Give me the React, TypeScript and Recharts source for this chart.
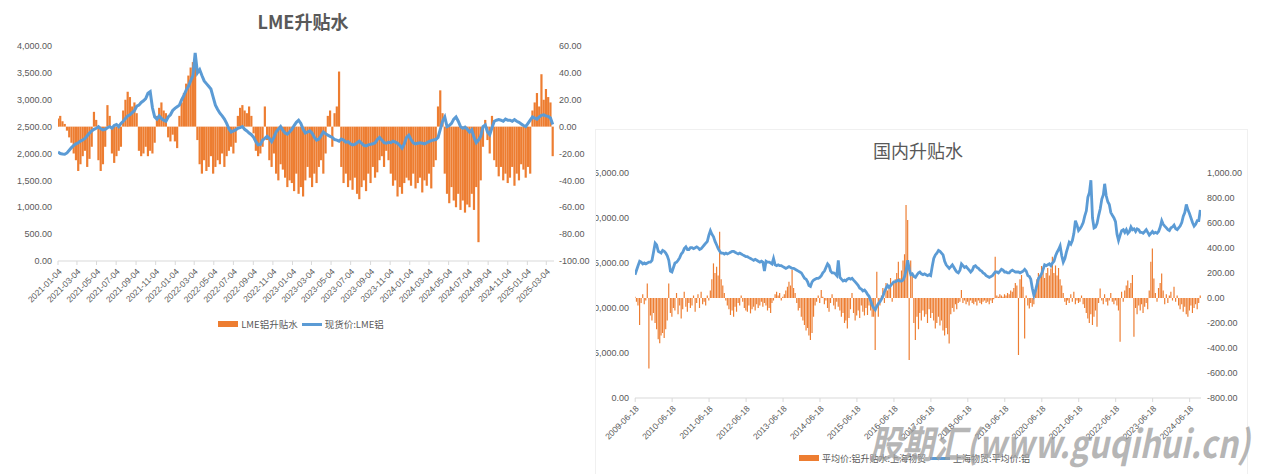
import React from 'react';
import { ComposedChart, Bar, Line, XAxis, YAxis, Legend } from 'recharts';

const DAY = 86400000;
const FONT = "'Liberation Sans', 'Noto Sans CJK SC', sans-serif";
const CJK = "'Noto Sans CJK SC', 'Noto Sans', sans-serif";
const ORANGE = '#ED7D31';
const BLUE = '#5B9BD5';
const GREY = '#595959';

// ---------- LME chart (weekly, starting 2021-01-04) ----------
const lmeStart = '2021-01-04';
const lmeEnd = '2025-03-28';
const lmeSpread2021 = [6, 8, 4, 2, -3, -8, -12, -20, -25, -33, -28, -22, -18, -30, -24, -15, 11, 5, -25, -33, -28, -15, 16, 8, -20, -27, -22, -18, -15, 12, 20, 26, 22, 15, 18, 10, -18, -22, -20, -15, -22, -18, -20, -12, 8, 14, 18, 12, 10, -8, -11, -6];
const lmeSpread2022 = [-11, -16, 8, 18, 25, 32, 38, 44, 48, 51, -10, -28, -35, -25, -33, -30, -22, -35, -30, -25, -28, -20, -30, -22, -18, -15, -20, -12, 8, 14, 16, 12, 10, 15, 8, -5, -18, -22, -20, -15, 15, -10, -25, -30, -20, -35, -40, -28, -32, -38, -45, -40];
const lmeSpread2023 = [-42, -48, -35, -50, -45, -52, -40, -30, -38, -45, -35, -42, -30, -25, -35, -20, 8, 12, -15, 10, 15, 41, -30, -42, -35, -45, -40, -47, -38, -50, -54, -45, -40, -48, -35, -42, -30, -38, -34, -25, -22, -30, -18, -25, -35, -44, -40, -52, -45, -50, -42, -38];
const lmeSpread2024 = [-40, -44, -35, -46, -42, -38, -49, -40, -44, -35, -46, -30, -25, 15, 27, 10, -35, -50, -57, -45, -55, -60, -50, -62, -55, -64, -58, -60, -50, -62, -45, -86, -40, -15, 5, -10, -20, 8, -25, -30, -37, -30, -40, -35, -42, -38, -30, -44, -35, -40, -28, -32];
const lmeSpread2025 = [-38, -30, -35, 12, 18, 25, 15, 39, 20, 28, 22, 18, -22];

const lmePrice2021 = [2030, 2000, 1990, 1985, 2010, 2060, 2110, 2150, 2180, 2200, 2230, 2250, 2280, 2330, 2380, 2420, 2450, 2470, 2500, 2460, 2440, 2450, 2480, 2500, 2470, 2520, 2540, 2500, 2560, 2600, 2650, 2700, 2720, 2760, 2800, 2880, 2900, 2950, 2980, 3020, 3120, 3150, 2850, 2680, 2640, 2700, 2650, 2620, 2600, 2680, 2720, 2800];
const lmePrice2022 = [2840, 2870, 2900, 3000, 3080, 3180, 3250, 3350, 3450, 3870, 3500, 3560, 3450, 3350, 3300, 3250, 3200, 3050, 2900, 2820, 2750, 2700, 2640, 2560, 2460, 2400, 2420, 2440, 2470, 2480, 2500, 2450, 2420, 2380, 2350, 2300, 2220, 2160, 2170, 2250, 2280, 2320, 2280, 2220, 2300, 2400, 2450, 2500, 2430, 2380, 2360, 2400];
const lmePrice2023 = [2450, 2520, 2580, 2620, 2560, 2450, 2380, 2400, 2420, 2380, 2300, 2250, 2270, 2330, 2400, 2370, 2340, 2320, 2300, 2260, 2250, 2230, 2270, 2250, 2210, 2220, 2180, 2160, 2170, 2200, 2230, 2190, 2150, 2140, 2160, 2170, 2180, 2200, 2260, 2300, 2250, 2200, 2190, 2210, 2200, 2230, 2210, 2190, 2150, 2100, 2180, 2300];
const lmePrice2024 = [2340, 2260, 2200, 2180, 2190, 2200, 2190, 2180, 2200, 2220, 2240, 2250, 2260, 2300, 2450, 2600, 2680, 2500, 2520, 2560, 2640, 2680, 2600, 2500, 2470, 2490, 2450, 2400, 2440, 2300, 2200, 2250, 2320, 2500, 2530, 2400, 2350, 2480, 2600, 2620, 2630, 2620, 2600, 2640, 2620, 2620, 2600, 2630, 2600, 2580, 2550, 2520];
const lmePrice2025 = [2500, 2560, 2620, 2680, 2660, 2640, 2680, 2710, 2720, 2700, 2690, 2660, 2540];

const lmeTickLabels = [
  '2021-01-04', '2021-03-04', '2021-05-04', '2021-07-04', '2021-09-04', '2021-11-04',
  '2022-01-04', '2022-03-04', '2022-05-04', '2022-07-04', '2022-09-04', '2022-11-04',
  '2023-01-04', '2023-03-04', '2023-05-04', '2023-07-04', '2023-09-04', '2023-11-04',
  '2024-01-04', '2024-03-04', '2024-05-04', '2024-07-04', '2024-09-04', '2024-11-04',
  '2025-01-04', '2025-03-04',
];
const lmeLeftTicks = [0, 500, 1000, 1500, 2000, 2500, 3000, 3500, 4000];
const lmeRightTicks = [-100, -80, -60, -40, -20, 0, 20, 40, 60];

// ---------- Shanghai chart (1st and 16th of each month) ----------
const shStart = '2009-06-16';
const shEnd = '2024-10-08';
const shPrice2009 = [13700, 14200, 14700, 15200, 15100, 14900, 15000, 14900, 15000, 15100, 15100, 15300, 16200];
const shPrice2010 = [17200, 17000, 16300, 16200, 16100, 16400, 16300, 16100, 15800, 15300, 14100, 14000, 14500, 15000, 15100, 15300, 15600, 16000, 16200, 16600, 16800, 16500, 16500, 16700];
const shPrice2011 = [16700, 16600, 16700, 16800, 16700, 16500, 16600, 16800, 17000, 17200, 17400, 18100, 18600, 18200, 17900, 17400, 17000, 16600, 16300, 16100, 16100, 16000, 16100, 16000];
const shPrice2012 = [16100, 16200, 16300, 16300, 16200, 16100, 16000, 16100, 16000, 15900, 15800, 15700, 15700, 15600, 15500, 15400, 15300, 15400, 15300, 15200, 15100, 15200, 15100, 14100];
const shPrice2013 = [15200, 15100, 15100, 15000, 14900, 15500, 14800, 14700, 14800, 14700, 14700, 14600, 14500, 14400, 14500, 14600, 14500, 14400, 14400, 14300, 14200, 14100, 14000, 13900];
const shPrice2014 = [13600, 13300, 13200, 12900, 12500, 12400, 12900, 13100, 13200, 13300, 13300, 13400, 13600, 13900, 14100, 14500, 14900, 14700, 14100, 13900, 13900, 13800, 13600, 15300];
const shPrice2015 = [13400, 13200, 13000, 13100, 13000, 13200, 13300, 13200, 13300, 13100, 12900, 12700, 12500, 12200, 12100, 11900, 12000, 11800, 11500, 11300, 10800, 10300, 10000, 9800];
const shPrice2016 = [10200, 10500, 10700, 11000, 11300, 11800, 12200, 12500, 12300, 12500, 12700, 12900, 12900, 13000, 13100, 13000, 13000, 13100, 13500, 14200, 15300, 14300, 13700, 13800];
const shPrice2017 = [13500, 13400, 13700, 13900, 14000, 13800, 13700, 13800, 13700, 13600, 13700, 13600, 14600, 15500, 15900, 16100, 16400, 16300, 16100, 15900, 15200, 14800, 14600, 14400];
const shPrice2018 = [14600, 14800, 14500, 14200, 14000, 13900, 14200, 14900, 14700, 14500, 14600, 14400, 14200, 14000, 14200, 14600, 14700, 14500, 14400, 14200, 14100, 13900, 13800, 13600];
const shPrice2019 = [13500, 13400, 13500, 13600, 13800, 14000, 14000, 13900, 14100, 14300, 14200, 14000, 14000, 13900, 13900, 14100, 14200, 14100, 14000, 14000, 14000, 13900, 14000, 14100];
const shPrice2020 = [14300, 14100, 13600, 13500, 13200, 12200, 11400, 11900, 12600, 13300, 13500, 13800, 14300, 14800, 14700, 14800, 14900, 14700, 15000, 15200, 15800, 16200, 16500, 16900];
const shPrice2021 = [15800, 15100, 15500, 16200, 16700, 17300, 17100, 17500, 18300, 19700, 19200, 18600, 18800, 19100, 19500, 20200, 20800, 22300, 22800, 24200, 20000, 18900, 19000, 19400];
const shPrice2022 = [20300, 21000, 22100, 22600, 23800, 22500, 21800, 21500, 20600, 20300, 20000, 19600, 18200, 17500, 18100, 18600, 18700, 18400, 18700, 18300, 18500, 19000, 18700, 18800];
const shPrice2023 = [18500, 18800, 18700, 18400, 18400, 18300, 18500, 18700, 18400, 18100, 18300, 18500, 18300, 18400, 18300, 18500, 19000, 19700, 19300, 19100, 18900, 18700, 18600, 18900];
const shPrice2024 = [19000, 19200, 18800, 18700, 18900, 19100, 19500, 20200, 20600, 21500, 20900, 20500, 20000, 19500, 19100, 19300, 19700, 19700, 20900];

const shSpread2009 = [10, -30, -60, -216, -40, 30, -50, -20, 117, -563, -140, -180, -120];
const shSpread2010 = [-200, -250, -330, -362, -300, -280, -320, -250, -180, 117, -120, -150, -80, -100, 40, -130, -60, -163, -90, 50, -70, -110, -40, -80];
const shSpread2011 = [-60, 20, -110, -40, 30, -80, 50, -50, -30, -60, 20, -20, 60, 150, 277, 200, 250, 180, 530, 150, 100, 40, -20, -60];
const shSpread2012 = [-90, -136, -100, -150, -70, -110, -40, -60, 20, -30, -80, -100, -110, -60, -123, -90, -70, -100, -50, -80, -60, -30, -70, -40];
const shSpread2013 = [-60, -100, -80, -120, -40, -20, 30, 50, 20, 40, -20, 10, 30, 60, 90, 130, 100, 224, 80, 40, -40, -100, -80, -150];
const shSpread2014 = [-180, -216, -260, -240, -300, -336, -280, -150, -60, -30, 20, -40, 64, 10, -50, -20, -80, -110, -40, 30, -60, -90, -30, -70];
const shSpread2015 = [-100, -150, -120, -200, -180, -243, -160, -90, 40, -120, -180, -140, -100, -160, -60, -110, -140, -80, -136, -60, -100, -150, -150, -416];
const shSpread2016 = [210, -150, -60, 20, 80, -40, 120, 60, 100, 160, -30, 120, 150, 200, 290, 160, 220, 300, 350, 744, 624, -496, 300, 200];
const shSpread2017 = [-200, -336, -150, -250, -120, -180, -100, -150, -130, -200, -90, -160, -120, -180, -243, -200, -150, -220, -180, -260, -300, -240, -290, -363];
const shSpread2018 = [-130, -80, -110, -50, -90, -40, -30, 64, -40, -20, -50, -30, -60, -20, -40, -50, -30, -60, -20, -40, -50, -30, -20, -40];
const shSpread2019 = [-30, -50, -20, -40, -10, 331, 20, 10, 30, 20, 10, 30, 20, 40, 30, 60, 50, 80, 120, 100, -456, 150, 184, 90];
const shSpread2020 = [-323, 20, -60, -83, -40, -70, -50, 60, 150, 200, 180, 256, 220, 160, 200, 240, 180, 237, 331, 200, 260, 180, 240, 150];
const shSpread2021 = [100, 40, -30, -56, -20, -40, 30, -30, 50, -50, -20, -40, -30, 20, -50, -80, -120, -163, -200, -130, -216, -150, -100, -230];
const shSpread2022 = [-40, 77, -20, -50, 30, -30, -60, -20, 40, -30, -50, -20, -60, -100, -349, 50, -30, 60, 100, 140, 80, 120, 184, -309];
const shSpread2023 = [-80, -130, -60, -100, -50, -120, -70, -40, -90, 60, 290, 397, 157, 40, -30, 80, 120, 197, 60, -50, 30, -40, 20, 50];
const shSpread2024 = [-20, 90, -30, 20, -60, -90, -50, -110, -70, -130, -149, -100, -60, -120, -80, -50, -90, -40, 20];

const shTickLabels = [
  '2009-06-18', '2010-06-18', '2011-06-18', '2012-06-18', '2013-06-18', '2014-06-18',
  '2015-06-18', '2016-06-18', '2017-06-18', '2018-06-18', '2019-06-18', '2020-06-18',
  '2021-06-18', '2022-06-18', '2023-06-18', '2024-06-18',
];
const shLeftTicks = [0, 5000, 10000, 15000, 20000, 25000];
const shRightTicks = [-800, -600, -400, -200, 0, 200, 400, 600, 800, 1000];

// ---------- build tables ----------
const toTime = (s: string) => Date.parse(s);
const fmtDate = (t: number) => new Date(t).toISOString().slice(0, 10);
const fmt2 = (v: number) =>
  v.toLocaleString('en-US', { minimumFractionDigits: 2, maximumFractionDigits: 2 });

const lmeSpread = [...lmeSpread2021, ...lmeSpread2022, ...lmeSpread2023, ...lmeSpread2024, ...lmeSpread2025];
const lmePrice = [...lmePrice2021, ...lmePrice2022, ...lmePrice2023, ...lmePrice2024, ...lmePrice2025];
const lmeData = lmeSpread.map((v, i) => ({
  t: toTime(lmeStart) + i * 7 * DAY,
  spread: v,
  price: lmePrice[i],
}));

// year, first half-month slot (0 = Jan 1, 1 = Jan 16 ...), prices, spreads
const shYears: [number, number, number[], number[]][] = [
  [2009, 11, shPrice2009, shSpread2009],
  [2010, 0, shPrice2010, shSpread2010],
  [2011, 0, shPrice2011, shSpread2011],
  [2012, 0, shPrice2012, shSpread2012],
  [2013, 0, shPrice2013, shSpread2013],
  [2014, 0, shPrice2014, shSpread2014],
  [2015, 0, shPrice2015, shSpread2015],
  [2016, 0, shPrice2016, shSpread2016],
  [2017, 0, shPrice2017, shSpread2017],
  [2018, 0, shPrice2018, shSpread2018],
  [2019, 0, shPrice2019, shSpread2019],
  [2020, 0, shPrice2020, shSpread2020],
  [2021, 0, shPrice2021, shSpread2021],
  [2022, 0, shPrice2022, shSpread2022],
  [2023, 0, shPrice2023, shSpread2023],
  [2024, 0, shPrice2024, shSpread2024],
];
const shData = shYears.flatMap(([year, slot0, prices, spreads]) =>
  prices.map((p, i) => {
    const s = slot0 + i;
    return { t: Date.UTC(year, Math.floor(s / 2), s % 2 ? 16 : 1), price: p, spread: spreads[i] };
  })
);

// legend: bar item first, then line
const LegendBox = (props: any) => {
  const items = [...(props.payload || [])].sort((a: any, b: any) =>
    (a.type === 'rect' ? 0 : 1) - (b.type === 'rect' ? 0 : 1)
  );
  return (
    <div
      style={{
        height: 20,
        display: 'flex',
        justifyContent: 'center',
        alignItems: 'center',
        fontFamily: CJK,
        fontSize: props.fs || 9.5,
        color: GREY,
        paddingLeft: props.pl || 0,
      }}
    >
      {items.map((item: any) => (
        <div key={item.value} style={{ display: 'flex', alignItems: 'center', marginRight: 4 }}>
          <span
            style={{
              display: 'inline-block',
              width: 20,
              height: item.type === 'rect' ? 6 : 3,
              background: item.color,
              marginRight: 3,
            }}
          />
          <span>{item.value}</span>
        </div>
      ))}
    </div>
  );
};

const xTick = { angle: -45, textAnchor: 'end', fontSize: 8.5, fill: GREY, fontFamily: FONT } as any;
const yTick = { fontSize: 9, fill: GREY, fontFamily: FONT };

export default function App() {
  return (
    <div
      style={{
        position: 'absolute',
        left: 0,
        top: 0,
        width: 1270,
        height: 474,
        background: '#fff',
        overflow: 'hidden',
      }}
    >
      {/* LME chart */}
      <div style={{ position: 'absolute', left: 0, top: 0, width: 596, height: 350 }}>
        <div
          style={{
            position: 'absolute',
            left: 0,
            width: 606,
            top: 11,
            lineHeight: '20px',
            textAlign: 'center',
            fontFamily: CJK,
            fontSize: 18,
            fontWeight: 700,
            color: GREY,
          }}
        >
          LME升贴水
        </div>
        <ComposedChart width={596} height={350} data={lmeData} margin={{ top: 46, right: 0, bottom: 16, left: 0 }}>
          <XAxis
            dataKey="t"
            type="number"
            scale="linear"
            domain={[toTime(lmeStart), toTime(lmeEnd)]}
            ticks={lmeTickLabels.map(toTime)}
            tickFormatter={fmtDate}
            interval={0}
            height={53}
            tick={xTick}
            tickSize={4}
            tickMargin={3}
            stroke="#d9d9d9"
            allowDataOverflow
          />
          <YAxis
            yAxisId="left"
            width={58}
            domain={[0, 4000]}
            ticks={lmeLeftTicks}
            interval={0}
            tickFormatter={fmt2}
            axisLine={false}
            tickLine={false}
            tickSize={4}
            tickMargin={2}
            tick={yTick}
          />
          <YAxis
            yAxisId="right"
            orientation="right"
            width={42}
            domain={[-100, 60]}
            ticks={lmeRightTicks}
            interval={0}
            tickFormatter={fmt2}
            axisLine={false}
            tickLine={false}
            tickSize={3}
            tickMargin={2}
            tick={yTick}
          />
          <Legend verticalAlign="bottom" content={(p: any) => <LegendBox {...p} pl={10} />} />
          <Bar yAxisId="right" dataKey="spread" name="LME铝升贴水" fill={ORANGE} barSize={2.2} isAnimationActive={false} />
          <Line
            yAxisId="left"
            dataKey="price"
            name="现货价:LME铝"
            stroke={BLUE}
            strokeWidth={3}
            dot={false}
            type="linear"
            isAnimationActive={false}
          />
        </ComposedChart>
      </div>

      {/* Domestic chart */}
      <div
        style={{
          position: 'absolute',
          left: 596,
          top: 130,
          width: 651,
          height: 344,
          overflow: 'hidden',
          outline: '1px solid #f0f0f0',
        }}
      >
        <div
          style={{
            position: 'absolute',
            left: 0,
            width: 644,
            top: 10,
            lineHeight: '20px',
            textAlign: 'center',
            fontFamily: CJK,
            fontSize: 18,
            color: GREY,
          }}
        >
          国内升贴水
        </div>
        <div style={{ position: 'absolute', left: -10, top: 0 }}>
          <ComposedChart width={661} height={344} data={shData} margin={{ top: 43, right: 0, bottom: 6, left: 0 }}>
            <XAxis
              dataKey="t"
              type="number"
              scale="linear"
              domain={[toTime(shStart), toTime(shEnd)]}
              ticks={shTickLabels.map(toTime)}
              tickFormatter={fmtDate}
              interval={0}
              height={50}
              tick={xTick}
              tickSize={4}
              tickMargin={3}
              stroke="#d9d9d9"
              allowDataOverflow
            />
            <YAxis
              yAxisId="left"
              width={49}
              domain={[0, 25000]}
              ticks={shLeftTicks}
              interval={0}
              tickFormatter={fmt2}
              axisLine={false}
              tickLine={false}
              tickSize={4}
              tickMargin={2}
              tick={yTick}
            />
            <YAxis
              yAxisId="right"
              orientation="right"
              width={46}
              domain={[-800, 1000]}
              ticks={shRightTicks}
              interval={0}
              tickFormatter={fmt2}
              axisLine={false}
              tickLine={false}
              tickSize={4}
              tickMargin={2}
              tick={yTick}
            />
            <Legend verticalAlign="bottom" content={(p: any) => <LegendBox {...p} fs={9} />} />
            <Bar yAxisId="right" dataKey="spread" name="平均价:铝升贴水:上海物贸" fill={ORANGE} barSize={1.8} isAnimationActive={false} />
            <Line
              yAxisId="left"
              dataKey="price"
              name="上海物贸:平均价:铝"
              stroke={BLUE}
              strokeWidth={2.8}
              dot={false}
              type="linear"
              isAnimationActive={false}
            />
          </ComposedChart>
        </div>
      </div>

      {/* watermark */}
      <svg style={{ position: 'absolute', left: 0, top: 0, pointerEvents: 'none' }} width={1270} height={474}>
        <text
          x={870}
          y={458}
          textLength={380}
          lengthAdjust="spacingAndGlyphs"
          fontSize={38}
          fontWeight={700}
          fontStyle="italic"
          fontFamily={CJK}
          fill="#9e9e9e"
          fillOpacity={0.75}
        >
          股期汇(www.guqihui.cn)
        </text>
      </svg>
    </div>
  );
}
